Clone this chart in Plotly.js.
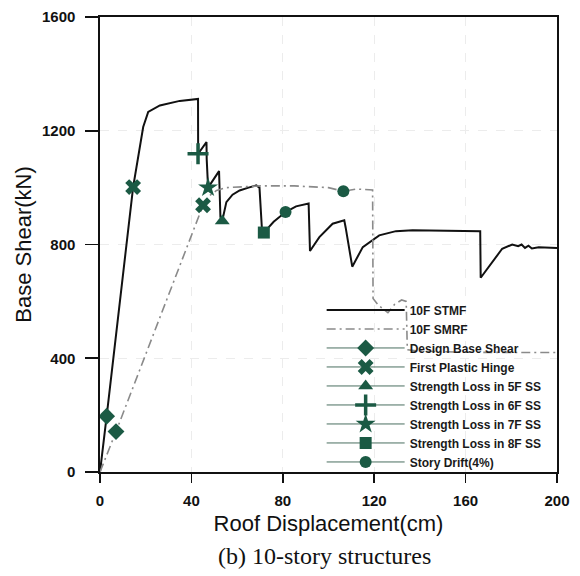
<!DOCTYPE html>
<html>
<head>
<meta charset="utf-8">
<script src="https://cdn.plot.ly/plotly-3.0.1.min.js"></script>
<style>
  html, body { margin: 0; padding: 0; background: #ffffff; }
  #chart { width: 580px; height: 576px; }
</style>
</head>
<body>
<div id="chart"></div>
<script>
// 10F STMF pushover curve (roof displacement cm, base shear kN)
const stmfX = [0, 2.9, 14.5, 18.9, 21.1, 26.2, 34.9, 42.9, 42.95, 46.6, 46.7, 47.3, 52.1, 52.3, 52.7, 53.5, 55.3, 58, 61.1, 65, 68.4, 69.8, 71, 71.7, 76, 81.2, 85.8, 91.3, 91.5, 91.9, 96, 101.8, 106.9, 107.5, 110.4, 115, 122.2, 129.5, 136.8, 150, 166.4, 166.6, 170, 173.1, 176, 180.4, 183, 184.5, 186, 187.5, 189, 192, 199.3, 200];
const stmfY = [0, 196, 1002, 1213, 1266, 1289, 1305, 1312, 1119, 1160, 1100, 1000, 1058, 1000, 897, 883, 949, 975, 990, 1000, 1008, 1000, 836, 842, 880, 914, 934, 944, 900, 777, 826, 873, 885, 860, 722, 791, 832, 847, 850, 849, 847, 683, 720, 756, 785, 800, 794, 800, 788, 796, 786, 790, 788, 788];

// 10F SMRF pushover curve
const smrfX = [0, 7.0, 45.1, 48, 51, 55.3, 70, 85, 100, 106.5, 112, 119.3, 119.5, 122, 126, 129, 132, 134, 134.5, 140, 160, 200];
const smrfY = [0, 142, 938, 972, 990, 1000, 1006, 1006, 1000, 987, 995, 992, 610, 585, 560, 590, 605, 600, 430, 425, 421, 420];

// Event markers
const designX = [2.9, 7.0],    designY = [196, 142];
const hingeX  = [14.5, 45.1],  hingeY  = [1002, 938];
const ss5X    = [53.5],        ss5Y    = [883];
const ss6X    = [42.9],        ss6Y    = [1119];
const ss7X    = [47.3],        ss7Y    = [1000];
const ss8X    = [71.7],        ss8Y    = [842];
const driftX  = [81.2, 106.5], driftY  = [914, 987];

const names = ["Design Base Shear", "First Plastic Hinge", "Strength Loss in 5F SS",
  "Strength Loss in 6F SS", "Strength Loss in 7F SS", "Strength Loss in 8F SS", "Story Drift(4%)"];

const xTicks = [0, 40, 80, 120, 160, 200];
const yTicks = [0, 400, 800, 1200, 1600];

const GREEN = "#1b5a44";
const markerDefs = [
  {x: designX, y: designY, m: {symbol: "diamond", size: 13}},
  {x: hingeX,  y: hingeY,  m: {symbol: "x", size: 14}},
  {x: ss5X,    y: ss5Y,    m: {symbol: "triangle-up", size: 13}},
  {x: ss6X,    y: ss6Y,    m: {symbol: "cross-thin-open", size: 15, line: {width: 3.5, color: GREEN}}},
  {x: ss7X,    y: ss7Y,    m: {symbol: "star", size: 15}},
  {x: ss8X,    y: ss8Y,    m: {symbol: "square", size: 12}},
  {x: driftX,  y: driftY,  m: {symbol: "circle", size: 12}}
];

const traces = [
  {x: stmfX, y: stmfY, mode: "lines", name: "10F STMF",
   line: {color: "#111111", width: 2}},
  {x: smrfX, y: smrfY, mode: "lines", name: "10F SMRF",
   line: {color: "#8a8a8a", width: 1.6, dash: "9px,4px,2px,4px"}}
];
markerDefs.forEach((d, i) => {
  const mk = Object.assign({color: GREEN}, d.m);
  traces.push({x: d.x, y: d.y, mode: "markers", name: names[i], showlegend: false,
    marker: mk, hoverinfo: "x+y"});
});
markerDefs.forEach((d, i) => {
  const mk = Object.assign({color: GREEN}, d.m);
  traces.push({x: [null], y: [null], mode: "lines+markers", name: names[i],
    line: {color: "#4a6e60", width: 1}, marker: mk});
});

const axisCommon = {
  showline: true, linecolor: "#111111", linewidth: 1.6, mirror: true,
  ticks: "outside", tickwidth: 1.6, tickcolor: "#111111",
  showgrid: true, gridcolor: "#ececec", gridwidth: 1, griddash: "dash",
  zeroline: false,
  tickfont: {family: "Liberation Sans, Arial, sans-serif", size: 15, color: "#111111", weight: "bold"}
};

const layout = {
  width: 580, height: 576,
  margin: {l: 100, r: 23, t: 17, b: 104},
  paper_bgcolor: "#ffffff", plot_bgcolor: "#ffffff",
  showlegend: true,
  legend: {
    x: 0.485, y: 0.388, xanchor: "left", yanchor: "top",
    bgcolor: "rgba(0,0,0,0)", borderwidth: 0,
    font: {family: "Liberation Sans, Arial, sans-serif", size: 12, color: "#1a1a1a", weight: "bold"},
    itemwidth: 78, tracegroupgap: 0
  },
  xaxis: Object.assign({}, axisCommon, {
    range: [0, 200], tickvals: xTicks, ticktext: xTicks.map(String),
    ticklen: 9, ticklabelstandoff: 5,
    title: {text: "Roof Displacement(cm)", standoff: 8,
      font: {family: "Liberation Sans, Arial, sans-serif", size: 22, color: "#111111"}}
  }),
  yaxis: Object.assign({}, axisCommon, {
    range: [0, 1600], tickvals: yTicks, ticktext: yTicks.map(String),
    ticklen: 13, ticklabelstandoff: 7,
    title: {text: "Base Shear(kN)", standoff: 4,
      font: {family: "Liberation Sans, Arial, sans-serif", size: 22, color: "#111111"}}
  }),
  annotations: [{
    text: "(b) 10-story structures", xref: "paper", yref: "paper",
    x: 0.492, y: -0.184, xanchor: "center", yanchor: "middle", showarrow: false,
    font: {family: "Liberation Serif, Times New Roman, serif", size: 24, color: "#111111"}
  }]
};

Plotly.newPlot("chart", traces, layout, {displayModeBar: false, staticPlot: true});
</script>
</body>
</html>
